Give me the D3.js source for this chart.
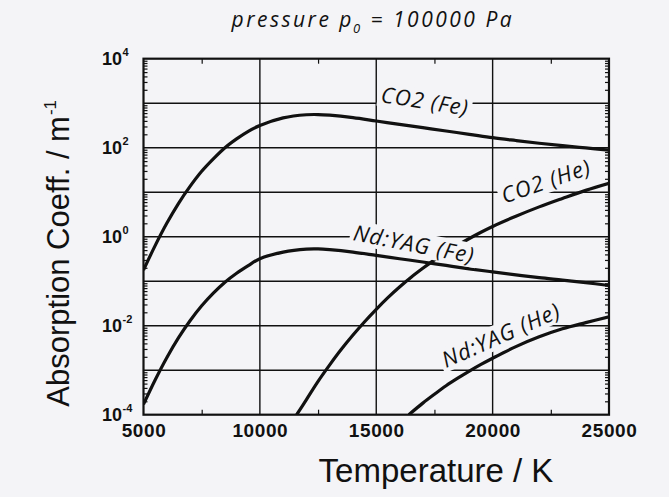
<!DOCTYPE html>
<html>
<head>
<meta charset="utf-8">
<script src="https://cdn.jsdelivr.net/npm/d3@7"></script>
<style>
  html, body { margin: 0; padding: 0; background: #f4f4f7; }
  svg { display: block; }
</style>
</head>
<body>
<svg id="chart" width="669" height="497"></svg>
<script>
// ---------------- data ----------------
const xTickValues = [5000, 10000, 15000, 20000, 25000];
const xTickLabels = ["5000", "10000", "15000", "20000", "25000"];
const yTickExponents = [4, 2, 0, -2, -4];
const yTickLabels = ["4", "2", "0", "-2", "-4"];

const co2FeT = [5000, 5500, 6000, 6500, 7000, 7500, 8000, 8500, 9000, 9500, 10000, 11000, 12000, 12500, 13000, 14000, 15000, 16000, 17000, 18000, 19000, 20000, 21000, 22000, 23000, 24000, 25000];
const co2FeV = [0.178, 0.631, 2.0, 5.56, 13.5, 29.5, 56.2, 100, 158, 234, 316, 468, 550, 556, 537, 473, 398, 335, 282, 237, 200, 168, 145, 126, 111, 98.9, 88.1];

const ndFeT = [5000, 5500, 6000, 6500, 7000, 7500, 8000, 8500, 9000, 9500, 10000, 11000, 12000, 12500, 13000, 14000, 15000, 16000, 17000, 18000, 19000, 20000, 21000, 22000, 23000, 24000, 25000];
const ndFeV = [1.7e-4, 6.0e-4, 1.9e-3, 5.3e-3, 1.29e-2, 2.8e-2, 5.4e-2, 9.5e-2, 0.151, 0.224, 0.32, 0.45, 0.525, 0.53, 0.51, 0.45, 0.38, 0.32, 0.27, 0.226, 0.19, 0.162, 0.139, 0.12, 0.106, 0.093, 0.08];

const co2HeT = [11580, 12000, 12500, 13000, 13500, 14000, 14500, 15000, 15500, 16000, 16500, 17000, 17500, 18000, 18500, 19000, 19500, 20000, 21000, 22000, 23000, 24000, 25000];
const co2HeV = [1e-4, 2.19e-4, 5.62e-4, 1.32e-3, 2.95e-3, 6.17e-3, 1.23e-2, 2.34e-2, 4.27e-2, 7.41e-2, 0.123, 0.195, 0.302, 0.447, 0.646, 0.912, 1.26, 1.70, 2.88, 4.68, 7.24, 11.0, 15.8];

const ndHeT = [16400, 17000, 17500, 18000, 18500, 19000, 19500, 20000, 21000, 22000, 23000, 24000, 25000];
const ndHeV = [1e-4, 1.82e-4, 2.88e-4, 4.47e-4, 6.61e-4, 9.55e-4, 1.35e-3, 1.86e-3, 3.39e-3, 5.62e-3, 8.51e-3, 1.17e-2, 1.58e-2];

const seriesNames = ["CO2 (Fe)", "CO2 (He)", "Nd:YAG (Fe)", "Nd:YAG (He)"];

// ---------------- layout ----------------
const svg = d3.select("#chart");
const L = 143.5, R = 609, T = 58.7, B = 414.7;
const ink = "#111111";
const paper = "#f4f4f7";

const x = d3.scaleLinear().domain([5000, 25000]).range([L, R]);
const y = d3.scaleLog().domain([1e-4, 1e4]).range([B, T]);

svg.append("rect").attr("width", 669).attr("height", 497).attr("fill", paper);

// gridlines
const grid = svg.append("g").attr("stroke", ink).attr("stroke-width", 1.4);
grid.selectAll("line.v").data([10000, 15000, 20000]).join("line")
  .attr("x1", d => x(d)).attr("x2", d => x(d)).attr("y1", T).attr("y2", B);
grid.selectAll("line.h").data([1e-3, 1e-2, 1e-1, 1, 10, 100, 1000]).join("line")
  .attr("x1", L).attr("x2", R).attr("y1", d => y(d)).attr("y2", d => y(d));

// minor ticks via axes
const xMinor = [7500, 12500, 17500, 22500];
const yMinor = [];
for (let e = -4; e < 4; e++) for (let k = 2; k <= 9; k++) yMinor.push(k * Math.pow(10, e));

function styleTicks(g) {
  g.select(".domain").remove();
  g.selectAll(".tick line").attr("stroke", ink).attr("stroke-width", 1.2);
  g.selectAll(".tick text").remove();
}
svg.append("g").attr("transform", `translate(0,${B})`)
  .call(d3.axisBottom(x).tickValues(xMinor).tickSize(-5).tickFormat("")).call(styleTicks);
svg.append("g").attr("transform", `translate(0,${T})`)
  .call(d3.axisTop(x).tickValues(xMinor).tickSize(-5).tickFormat("")).call(styleTicks);
svg.append("g").attr("transform", `translate(${L},0)`)
  .call(d3.axisLeft(y).tickValues(yMinor).tickSize(-4).tickFormat("")).call(styleTicks);
svg.append("g").attr("transform", `translate(${R},0)`)
  .call(d3.axisRight(y).tickValues(yMinor).tickSize(-4).tickFormat("")).call(styleTicks);

// clip
svg.append("clipPath").attr("id", "clip").append("rect")
  .attr("x", L).attr("y", T).attr("width", R - L).attr("height", B - T);

const line = d3.line().x(d => x(d[0])).y(d => y(d[1])).curve(d3.curveCatmullRom.alpha(0.5));
const zip = (a, b) => a.map((v, i) => [v, b[i]]);

function drawCurve(data) {
  svg.append("path").datum(data).attr("clip-path", "url(#clip)")
    .attr("fill", "none").attr("stroke", ink).attr("stroke-width", 3.2)
    .attr("stroke-linejoin", "round").attr("d", line);
}

// CO2 (He) is partly hidden under a label, so draw it first
drawCurve(zip(co2HeT, co2HeV));

// curve labels (background knocks out gridlines)
const labelPos = [
  { x: 425, y: 101, a: 9 },
  { x: 546, y: 181, a: -19 },
  { x: 414, y: 244, a: 11 },
  { x: 501, y: 335, a: -24 }
];
const fs = 22;
const labelGroups = seriesNames.map((name, i) => {
  const p = labelPos[i];
  const g = svg.append("g").attr("transform", `translate(${p.x},${p.y}) rotate(${p.a})`);
  const r = g.append("rect").attr("fill", paper);
  const t = g.append("text")
    .attr("text-anchor", "middle").attr("y", 0.36 * fs)
    .attr("font-family", "'Open Sans', 'Noto Sans', sans-serif")
    .attr("font-style", "italic").attr("font-size", fs)
    .attr("font-weight", 500)
    .attr("letter-spacing", 1.0)
    .attr("fill", ink).text(name);
  const w = t.node().getComputedTextLength();
  r.attr("x", -w / 2 - 3).attr("width", w + 6).attr("y", -0.55 * fs).attr("height", 1.1 * fs);
  return g;
});

drawCurve(zip(co2FeT, co2FeV));
drawCurve(zip(ndFeT, ndFeV));
drawCurve(zip(ndHeT, ndHeV));

// bring label text on top
labelGroups.forEach(g => g.raise());

// frame
svg.append("rect").attr("x", L).attr("y", T).attr("width", R - L).attr("height", B - T)
  .attr("fill", "none").attr("stroke", ink).attr("stroke-width", 2.2);

// x tick labels
svg.append("g").attr("transform", `translate(0,${B})`)
  .call(d3.axisBottom(x).tickValues(xTickValues).tickSize(0).tickPadding(0)
    .tickFormat((d, i) => xTickLabels[i]))
  .call(g => {
    g.select(".domain").remove();
    g.selectAll(".tick text")
      .attr("y", 22.5).attr("dy", 0)
      .attr("font-family", "'Liberation Sans', Arial, sans-serif")
      .attr("font-weight", "bold").attr("font-size", 19)
      .attr("letter-spacing", 0.6)
      .attr("fill", ink);
  });

// y tick labels 10^n
const yl = svg.append("g").attr("font-family", "'Liberation Sans', Arial, sans-serif")
  .attr("font-weight", "bold").attr("fill", ink);
yTickExponents.forEach((e, i) => {
  const yy = y(Math.pow(10, e));
  yl.append("text").attr("x", 122).attr("y", yy + 6).attr("text-anchor", "end")
    .attr("font-size", 18).text("10");
  yl.append("text").attr("x", 122.5).attr("y", yy - 3).attr("text-anchor", "start")
    .attr("font-size", 11).text(yTickLabels[i]);
});

// axis titles
const yt = svg.append("text")
  .attr("transform", "translate(68.5,406.7) rotate(-90)")
  .attr("font-family", "'Liberation Sans', Arial, sans-serif")
  .attr("font-size", 31).attr("fill", ink);
yt.append("tspan").text("Absorption Coeff. / m");
yt.append("tspan").attr("font-size", 17).attr("dy", -13).attr("dx", 1).text("-1");

svg.append("text").attr("x", 436).attr("y", 482).attr("text-anchor", "middle")
  .attr("font-family", "'Liberation Sans', Arial, sans-serif")
  .attr("font-size", 33).attr("fill", ink).text("Temperature / K");

// title
const tt = svg.append("text").attr("x", 231.5).attr("y", 27)
  .attr("font-family", "'Open Sans', 'Noto Sans', sans-serif")
  .attr("font-style", "italic").attr("font-size", 21)
  .attr("font-weight", 500)
  .attr("letter-spacing", 2.5).attr("fill", ink);
tt.append("tspan").text("pressure p");
tt.append("tspan").attr("font-size", 13).attr("dy", 6).attr("dx", -1).text("0");
tt.append("tspan").attr("dy", -6).text(" = 100000 Pa");
</script>
</body>
</html>
